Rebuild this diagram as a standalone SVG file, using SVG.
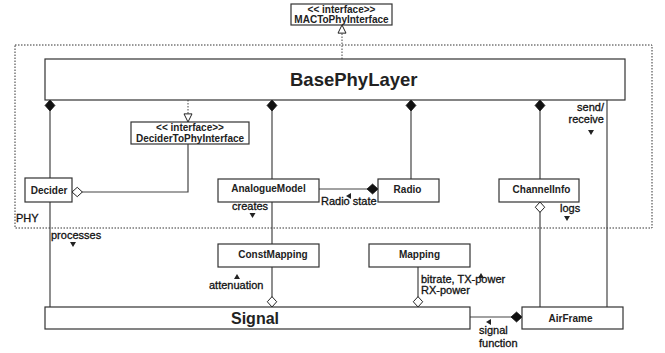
<svg xmlns="http://www.w3.org/2000/svg" width="665" height="353" viewBox="0 0 665 353">
<style>
  .box{fill:#fff;stroke:#333;stroke-width:1.2}
  .t{font-family:"Liberation Sans",Arial,sans-serif;font-weight:bold;font-size:10px;fill:#222}
  .it{font-family:"Liberation Sans",Arial,sans-serif;font-weight:bold;font-size:10px;fill:#222}
  .lbl{font-family:"Liberation Sans",Arial,sans-serif;font-size:11px;fill:#111;stroke:#111;stroke-width:0.3}
  .ln{fill:none;stroke:#444;stroke-width:1.2}
  .dot{fill:none;stroke:#444;stroke-width:1;stroke-dasharray:1.5,1.5}
  .tri{fill:#222}
</style>
<defs>
  <marker id="dfill" markerUnits="userSpaceOnUse" markerWidth="12" markerHeight="12" refX="0" refY="5" orient="auto" viewBox="0 0 11 10">
    <path d="M0,5 L5,0.5 L10,5 L5,9.5 Z" fill="#111" stroke="#111" stroke-width="0.8"/>
  </marker>
  <marker id="dhol" markerUnits="userSpaceOnUse" markerWidth="12" markerHeight="12" refX="0.5" refY="5" orient="auto" viewBox="0 0 11 10">
    <path d="M0.5,5 L5.3,0.7 L10,5 L5.3,9.3 Z" fill="#fff" stroke="#222" stroke-width="0.9"/>
  </marker>
  <marker id="thol" markerUnits="userSpaceOnUse" markerWidth="10" markerHeight="10" refX="7" refY="4" orient="auto" viewBox="0 0 8 8">
    <path d="M0.5,0.8 L7,4 L0.5,7.2 Z" fill="#fff" stroke="#222" stroke-width="0.8"/>
  </marker>
</defs>

<!-- PHY frame -->
<g id="phy-frame">
  <rect x="15" y="45" width="637" height="183" fill="none" stroke="#333" stroke-width="1" stroke-dasharray="1.5,1.5"/>
  <text class="lbl" x="16" y="222">PHY</text>
</g>

<!-- connectors -->
<g id="connectors">
  <path class="dot" d="M342,59 V25" marker-end="url(#thol)"/>
  <path class="dot" d="M188,100 V122" marker-end="url(#thol)"/>
  <path class="ln" d="M50,100 V178" marker-start="url(#dfill)"/>
  <path class="ln" d="M50,202 V307"/>
  <path class="ln" d="M272,100 V179" marker-start="url(#dfill)"/>
  <path class="ln" d="M411,100 V179" marker-start="url(#dfill)"/>
  <path class="ln" d="M540,100 V179" marker-start="url(#dfill)"/>
  <path class="ln" d="M607,100 V307"/>
  <path class="ln" d="M72,192 H188 V144" marker-start="url(#dhol)"/>
  <path class="ln" d="M378,189 H319" marker-start="url(#dfill)"/>
  <path class="ln" d="M272,202 V244"/>
  <path class="ln" d="M272,307 V267" marker-start="url(#dhol)"/>
  <path class="ln" d="M418,307 V267" marker-start="url(#dhol)"/>
  <path class="ln" d="M540,202 V307" marker-start="url(#dhol)"/>
  <path class="ln" d="M522,317 H470" marker-start="url(#dfill)"/>
</g>

<!-- connector labels -->
<g id="labels">
  <text class="lbl" x="232" y="210">creates</text>
  <polygon class="tri" points="249.5,213 255.5,213 252.5,218"/>
  <text class="lbl" x="321" y="205">Radio state</text>
  <polygon class="tri" points="346,196 351,193 351,199"/>
  <text class="lbl" x="604" y="111" text-anchor="end">send/</text>
  <text class="lbl" x="604" y="123" text-anchor="end">receive</text>
  <polygon class="tri" points="588,130 594,130 591,135"/>
  <text class="lbl" x="560" y="212">logs</text>
  <polygon class="tri" points="564,216 570,216 567,221"/>
  <text class="lbl" x="51" y="239">processes</text>
  <polygon class="tri" points="70,242 76,242 73,247"/>
  <text class="lbl" x="209" y="289">attenuation</text>
  <polygon class="tri" points="234,279 240,279 237,274"/>
  <text class="lbl" x="421" y="283">bitrate, TX-power</text>
  <text class="lbl" x="421" y="294">RX-power</text>
  <polygon class="tri" points="478,278 484,278 481,273"/>
  <text class="lbl" x="479" y="334">signal</text>
  <text class="lbl" x="479" y="347">function</text>
  <polygon class="tri" points="486,322 491,319 491,325"/>
</g>

<!-- nodes -->
<g id="MACToPhyInterface">
  <rect class="box" x="291" y="4" width="101" height="21"/>
  <text class="it" x="341.5" y="13" text-anchor="middle" font-size="10.5">&lt;&lt; interface&gt;&gt;</text>
  <text class="it" x="341.5" y="23" text-anchor="middle">MACToPhyInterface</text>
</g>
<g id="BasePhyLayer">
  <rect class="box" x="45" y="59" width="580" height="41"/>
  <text class="t" x="290" y="86" style="font-size:18.5px">BasePhyLayer</text>
</g>
<g id="DeciderToPhyInterface">
  <rect class="box" x="131" y="122" width="118" height="22"/>
  <text class="it" x="190" y="131" text-anchor="middle" font-size="10.5">&lt;&lt; interface&gt;&gt;</text>
  <text class="it" x="190" y="142" text-anchor="middle">DeciderToPhyInterface</text>
</g>
<g id="Decider">
  <rect class="box" x="25" y="178" width="47" height="24"/>
  <text class="t" x="49" y="194" text-anchor="middle">Decider</text>
</g>
<g id="AnalogueModel">
  <rect class="box" x="218" y="179" width="101" height="23"/>
  <text class="t" x="268.5" y="192" text-anchor="middle">AnalogueModel</text>
</g>
<g id="Radio">
  <rect class="box" x="378" y="179" width="61" height="23"/>
  <text class="t" x="407.5" y="193" text-anchor="middle" font-size="10.5">Radio</text>
</g>
<g id="ChannelInfo">
  <rect class="box" x="499" y="179" width="80" height="23"/>
  <text class="t" x="541.5" y="193" text-anchor="middle">ChannelInfo</text>
</g>
<g id="ConstMapping">
  <rect class="box" x="218" y="244" width="101" height="23"/>
  <text class="t" x="273" y="258" text-anchor="middle">ConstMapping</text>
</g>
<g id="Mapping">
  <rect class="box" x="369" y="244" width="101" height="23"/>
  <text class="t" x="419.5" y="258" text-anchor="middle">Mapping</text>
</g>
<g id="Signal">
  <rect class="box" x="45" y="307" width="425" height="22"/>
  <text class="t" x="231" y="324" style="font-size:16px">Signal</text>
</g>
<g id="AirFrame">
  <rect class="box" x="522" y="307" width="101" height="22"/>
  <text class="t" x="570.5" y="322" text-anchor="middle">AirFrame</text>
</g>
</svg>
